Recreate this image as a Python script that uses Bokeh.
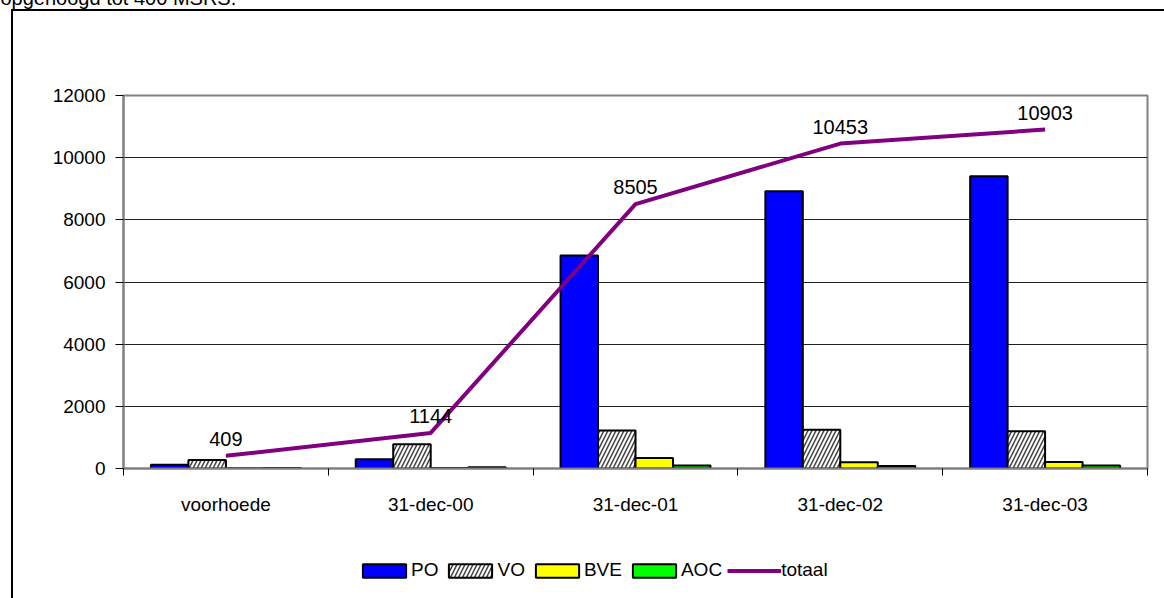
import numpy as np
from bokeh.plotting import figure
from bokeh.layouts import column
from bokeh.models import (ColumnDataSource, Range1d, FixedTicker, Legend, LegendItem,
                          Label, InlineStyleSheet)
from bokeh.core.properties import value
from bokeh.embed import file_html
from bokeh.resources import INLINE

categories = ["voorhoede", "31-dec-00", "31-dec-01", "31-dec-02", "31-dec-03"]
po = [120, 300, 6850, 8920, 9400]
vo = [270, 780, 1225, 1250, 1200]
bve = [5, 20, 335, 200, 210]
aoc = [14, 44, 95, 83, 93]
totaal = [409, 1144, 8505, 10453, 10903]
y_ticks = [0, 2000, 4000, 6000, 8000, 10000, 12000]
series_names = ["PO", "VO", "BVE", "AOC", "totaal"]
top_text = "opgehoogd tot 400 MSRS."

FONT = "Liberation Sans"
W = 1164
H1, H2 = 548, 50

css_top = InlineStyleSheet(css="""
:host { position: relative; }
:host::after {
  content: ''; position: absolute; left: 11px; top: 9px;
  width: calc(100% - 11px); height: calc(100% - 9px);
  border-left: 2px solid black; border-top: 2px solid black;
  box-sizing: border-box; pointer-events: none;
}
""")
css_bot = InlineStyleSheet(css="""
:host { position: relative; }
:host::after {
  content: ''; position: absolute; left: 11px; top: 0px;
  width: calc(100% - 11px); height: 100%;
  border-left: 2px solid black;
  box-sizing: border-box; pointer-events: none;
}
""")

p = figure(width=W, height=H1, output_backend="svg", toolbar_location=None,
           x_range=Range1d(0, len(categories)), y_range=Range1d(0, 12000),
           min_border_left=123, min_border_right=17, min_border_top=95, min_border_bottom=80,
           stylesheets=[css_top])
p.background_fill_color = "white"
p.border_fill_color = "white"
p.outline_line_color = "#808080"
p.outline_line_width = 2

centers = np.arange(len(categories)) + 0.5
bw = 0.183
offs = [-0.2745, -0.0915, 0.0915, 0.2745]

src = ColumnDataSource(dict(
    x_po=centers + offs[0], x_vo=centers + offs[1], x_bve=centers + offs[2], x_aoc=centers + offs[3],
    po=po, vo=vo, bve=bve, aoc=aoc, xc=centers, tot=totaal, tot_lbl=[str(t) for t in totaal]))

po_style = dict(fill_color="#0000FF", line_color="black", line_width=2)
vo_style = dict(fill_color="white", hatch_pattern="/", hatch_color="#404040", hatch_scale=8,
                hatch_weight=1.5, line_color="black", line_width=2)
bve_style = dict(fill_color="#FFFF00", line_color="black", line_width=2)
aoc_style = dict(fill_color="#00FF00", line_color="black", line_width=2)
tot_style = dict(line_color="#800080", line_width=4)

def draw_series(fig, visible=True):
    r1 = fig.vbar(x="x_po", top="po", width=bw, source=src, visible=visible, **po_style)
    r2 = fig.vbar(x="x_vo", top="vo", width=bw, source=src, visible=visible, **vo_style)
    r3 = fig.vbar(x="x_bve", top="bve", width=bw, source=src, visible=visible, **bve_style)
    r4 = fig.vbar(x="x_aoc", top="aoc", width=bw, source=src, visible=visible, **aoc_style)
    r5 = fig.line(x="xc", y="tot", source=src, visible=visible, **tot_style)
    return [r1, r2, r3, r4, r5]

draw_series(p)
p.text(x="xc", y="tot", text="tot_lbl", source=src, text_font=value(FONT),
       text_font_size="20px", text_color="black", text_align="center",
       text_baseline="bottom", y_offset=-10)

# axes
p.xaxis.ticker = FixedTicker(ticks=list(centers), minor_ticks=list(range(len(categories) + 1)))
p.xaxis.major_label_overrides = {float(c): lab for c, lab in zip(centers, categories)}
p.xaxis.major_tick_out = 0
p.xaxis.major_tick_in = 0
p.xaxis.minor_tick_out = 7
p.xaxis.minor_tick_in = 0
p.xaxis.minor_tick_line_color = "black"
p.xaxis.axis_line_color = "#808080"
p.xaxis.axis_line_width = 2
p.xaxis.major_label_standoff = 18
p.xaxis.major_label_text_font = FONT
p.xaxis.major_label_text_font_size = "19px"
p.xaxis.major_label_text_color = "black"

p.yaxis.ticker = FixedTicker(ticks=y_ticks)
p.yaxis.major_tick_out = 8
p.yaxis.major_tick_in = 0
p.yaxis.minor_tick_out = 0
p.yaxis.minor_tick_in = 0
p.yaxis.major_tick_line_color = "black"
p.yaxis.axis_line_color = "#808080"
p.yaxis.axis_line_width = 2
p.yaxis.major_label_standoff = 10
p.yaxis.major_label_text_font = FONT
p.yaxis.major_label_text_font_size = "19px"
p.yaxis.major_label_text_color = "black"

p.xgrid.visible = False
p.ygrid.ticker = FixedTicker(ticks=y_ticks[1:-1])
p.ygrid.grid_line_color = "#202020"
p.ygrid.grid_line_width = 1

p.add_layout(Label(x=0, y=-3, x_units="canvas", y_units="canvas", text=top_text,
                   text_font=FONT, text_font_size="20px", text_color="black",
                   text_baseline="alphabetic"), "above")

# legend strip: hidden copies of the series feed the legend swatches
p2 = figure(width=W, height=H2, output_backend="svg", toolbar_location=None,
            x_range=Range1d(0, len(categories)), y_range=Range1d(0, 12000),
            min_border_left=0, min_border_right=0, min_border_top=0, min_border_bottom=0,
            stylesheets=[css_bot])
p2.axis.visible = False
p2.grid.visible = False
p2.outline_line_color = None
p2.background_fill_color = "white"
p2.border_fill_color = "white"

legend_renderers = draw_series(p2, visible=False)

legend = Legend(items=[LegendItem(label=n, renderers=[r]) for n, r in
                       zip(series_names, legend_renderers)],
                orientation="horizontal", location=(234, 17), glyph_width=54, glyph_height=17,
                label_standoff=0, spacing=5, padding=0, margin=0, border_line_color=None,
                background_fill_alpha=0, label_text_font=FONT, label_text_font_size="19px",
                label_text_color="black", label_height=14, inactive_fill_alpha=0)
p2.add_layout(legend, "center")

layout = column(p, p2, spacing=0)
open("out.html", "w").write(file_html(layout, INLINE))
